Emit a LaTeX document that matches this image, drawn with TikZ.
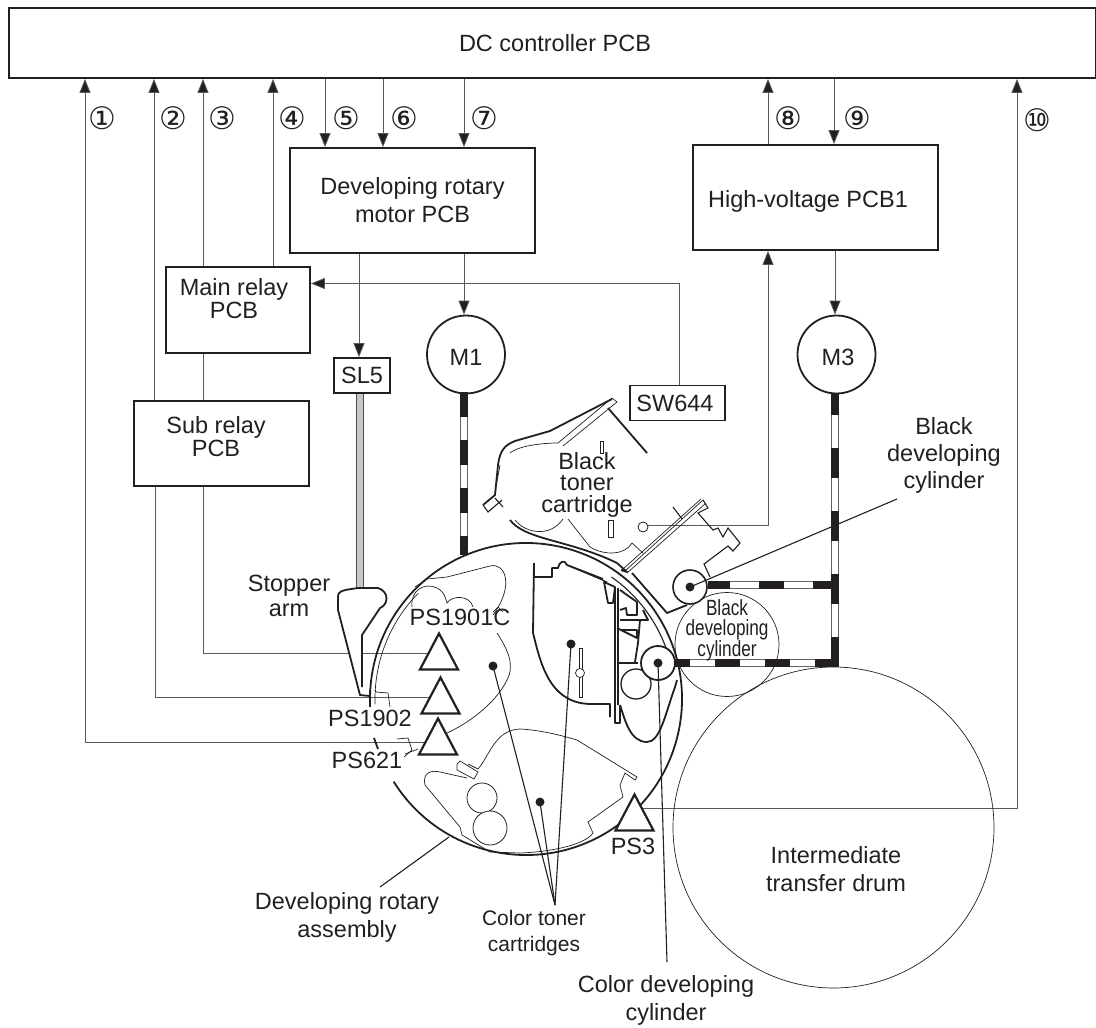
\documentclass[tikz,border=0pt]{standalone}
\usepackage{fontspec}
\setmainfont{Liberation Sans}
\newfontfamily\numfont{DejaVu Sans}
\usetikzlibrary{arrows.meta,shapes.geometric,calc}
\definecolor{ink}{HTML}{231F20}
\definecolor{rod}{HTML}{C8C8C8}
\tikzset{
 x=1pt,y=-1pt,
 every node/.style={font=\fontsize{23.5}{28}\selectfont,text=ink,align=center,inner sep=0pt},
 pcb/.style={draw=ink,line width=1.8pt,fill=white},
 conn/.style={draw=ink!75,line width=.8pt},
 arr/.style={conn,-{Triangle[length=14pt,width=11pt,fill=ink]}},
 thn/.style={draw=ink,line width=.7pt},
 med/.style={draw=ink,line width=1.1pt},
 thk/.style={draw=ink,line width=1.8pt,line join=round},
 num/.style={font=\numfont\fontsize{31}{31}\selectfont},
 tri/.style={draw=ink,line width=2.2pt,fill=white,isosceles triangle,isosceles triangle stretches,shape border rotate=90,minimum width=38pt,minimum height=36pt,inner sep=0pt},
 dot/.style={circle,fill=ink,minimum size=9pt},
 roller/.style={circle,draw=ink,line width=1.3pt,fill=white},
 thinc/.style={circle,draw=ink,line width=.7pt},
}
\newcommand{\myarc}[5]{\draw[#1] ([shift={(#4:#3pt)}]#2) arc[start angle=#4,end angle=#5,radius=#3pt];}
\newcommand{\belt}[2]{%
 \draw[ink!70,line width=7.5pt] #2;
 \draw[white,line width=6pt] #2;
 \draw[ink,line width=7.5pt,dash pattern=#1] #2;}
\begin{document}
\begin{tikzpicture}
\useasboundingbox (0,0) rectangle (1096,1028);
% boxes
\node[pcb,minimum width=1087pt,minimum height=70pt] (dc) at (552.5,43) {};
\node[pcb,minimum width=245pt,minimum height=105pt] (motor) at (412.5,200.5) {Developing rotary\\motor PCB};
\node[pcb,minimum width=144pt,minimum height=86pt] (main) at (238,310) {};
\node[pcb,minimum width=175pt,minimum height=85pt] (sub) at (221.5,443.5) {};
\node[pcb,minimum width=245pt,minimum height=105pt] (hv) at (815.5,197.5) {};
\node[pcb,circle,minimum size=78pt] (m1) at (466,354.5) {};
\node[pcb,circle,minimum size=78pt] (m3) at (836.5,354.5) {};
\node[pcb,minimum width=56pt,minimum height=35pt] (sl5) at (362,375.5) {SL5};
\node[pcb,minimum width=95pt,minimum height=35pt] (sw) at (677.5,403) {};
% free ends
\coordinate (a1) at (437,653);
\coordinate (a2) at (437,697);
\coordinate (a3) at (437,742);
\coordinate (a10) at (632,808);
\coordinate (sens) at (648,525);
% connectors
\draw[arr] (a3) -| (85,0 |- dc.south);
\draw[conn] (a2) -| (155,0 |- sub.south);
\draw[arr] (154,0 |- sub.north) -- (154,0 |- dc.south);
\draw[conn] (a1) -| (203,0 |- sub.south);
\draw[conn] (203,0 |- sub.north) -- (203,0 |- main.south);
\draw[arr] (203,0 |- main.north) -- (203,0 |- dc.south);
\draw[arr] (273,0 |- main.north) -- (273,0 |- dc.south);
\draw[arr] (325,0 |- dc.south) -- (325,0 |- motor.north);
\draw[arr] (383,0 |- dc.south) -- (383,0 |- motor.north);
\draw[arr] (464,0 |- dc.south) -- (464,0 |- motor.north);
\draw[arr] (768,0 |- hv.north) -- (768,0 |- dc.south);
\draw[arr] (sens) -| (768,0 |- hv.south);
\draw[arr] (834,0 |- dc.south) -- (834,0 |- hv.north);
\draw[arr] (a10) -| (1017,0 |- dc.south);
\draw[arr] (359,0 |- motor.south) -- (359,0 |- sl5.north);
\draw[arr] (464,0 |- motor.south) -- (464,0 |- m1.north);
\draw[arr] (835,0 |- hv.south) -- (835,0 |- m3.north);
\coordinate (swc) at (679,283.5);
\draw[arr] (679,0 |- sw.north) -- (swc) -- (main.east |- swc);
% rod and belts
\draw[ink!80,line width=7.5pt] (360,394) -- (360,590);
\draw[rod,line width=6pt] (360,394) -- (360,590);
\node[thinc,minimum size=104pt,fill=white] (bdc) at (727,644.5) {};
\node[thinc,minimum size=321pt] (drum) at (833.5,827.5) {};
\belt{on 25pt off 23pt}{(464,392) -- (464,555)}
\belt{on 30pt off 33pt}{(835,667) -- (835,393)}
\belt{on 22pt off 29pt on 25pt off 29pt}{(708,585) -- (832,585)}
\belt{on 25pt off 25pt}{(665,663) -- (839,663)}
% rotary
\coordinate (rc) at (526,699);
\myarc{thk}{rc}{156}{212}{542}
\myarc{thn}{rc}{151}{182}{135.5}
\myarc{med}{rc}{149}{55}{12}
% stopper arm
\draw[thk,fill=white] (362,687) -- (362,635) -- (380,608) .. controls (388,605) and (390,592) .. (378,588) -- (358,588) .. controls (345,590) and (338,590) .. (338,597) -- (338,610) -- (360,695) -- (370,696) ;
\draw[thk] (370,690) -- (370,707);
\draw[thn] (375,690) -- (376,692) -- (388,693) -- (390,707);
\draw[thk] (374,738) -- (378,749);
\draw[thn] (397,739) -- (408,738) -- (412,750) -- (404,757);
\draw[thn] (405,754) -- (418,749);
% rotary left cartridge
\draw[thn] (415,587) -- (427,579) -- (447,577) -- (490,566) .. controls (505,562) and (515,585) .. (493,615);
\draw[thn] (412,607) .. controls (410,590) and (425,582) .. (437,588) .. controls (445,592) and (446,600) .. (447,603) .. controls (452,595) and (470,595) .. (473,607);
\draw[thn] (497,633) .. controls (508,650) and (515,665) .. (507,680) .. controls (495,705) and (465,725) .. (447,733);
\draw[thn] (493,612) -- (498,607) -- (503,612);
% bottom cartridge
\draw[thn] (457,764) -- (460,761) -- (478,772) -- (474,779) -- (457,770) -- cycle;
\draw[thn] (468,764) -- (478,769) .. controls (490,755) and (495,730) .. (520,729) .. controls (540,730) and (560,735) .. (577,740) -- (637,777) -- (635,780) -- (625,773) -- (620,785) -- (623,797) -- (588,822) -- (593,833) .. controls (585,845) and (550,852) .. (520,853) -- (490,852) -- (462,835) -- (460,827) -- (425,785) .. controls (422,772) and (432,770) .. (440,772) -- (467,778);
\node[roller,line width=.8pt,minimum size=30pt] (r1) at (482,798) {};
\node[roller,line width=.8pt,minimum size=34pt] (r2) at (490,828) {};
% main colour cartridge
\draw[thk] (534,563) -- (534,577) -- (552,577) -- (552,568) -- (558,568) .. controls (560,560) and (565,560) .. (567,565) -- (603,579);
\draw[thk] (534,563) -- (533,633) .. controls (540,660) and (548,703) .. (590,704) -- (610,704) -- (610,717);
\draw[med] (567,565) -- (607,582);
\draw[thk] (615,588) -- (615,723) -- (620,723) -- (620,705);
\draw[med] (618,588) -- (618,705);
\draw[thk] (604,582) -- (615,587) -- (613,603) -- (608,603) -- cycle;
\draw[thk] (620,590) -- (637,602) -- (637,615) -- (627,615) -- (626,608) -- (620,610);
\draw[thk] (620,620) -- (648,620) -- (643,610);
\draw[thk] (617,628) -- (637,638) -- (637,630) -- (622,630);
\draw[thk] (640,620) -- (638,643) -- (635,662);
\draw[thk] (618,663) -- (638,663);
\draw[thk] (620,705) .. controls (625,720) and (630,742) .. (647,742) .. controls (660,742) and (665,715) .. (675,687) -- (677,680);
\node[roller,minimum size=30pt] (r3) at (636,684) {};
\node[roller,line width=1.8pt,minimum size=34pt] (cdc) at (658,663) {};
\draw[thn] (579,648) -- (579,697) -- (582,697) -- (582,648) -- cycle;
\node[circle,draw=ink,line width=.7pt,fill=white,minimum size=9pt] (cs) at (580,673) {};
% black cartridge
\draw[thk] (612,399) -- (550,431) -- (515,441) .. controls (505,445) and (500,450) .. (498,465) -- (495,495) -- (483,505);
\draw[med] (483,505) -- (488,512) -- (502,500) (495,498) -- (503,507);
\draw[thn] (612,398) -- (617,402) -- (563,446) (612,398) -- (558,443) .. controls (545,443) and (520,445) .. (510,453);
\draw[thk] (608,408) -- (647,453);
\draw[thn] (500,465) -- (495,492);
\draw[thn] (600,441) rectangle (603,453);
\draw[thn] (608,520) rectangle (613,537);
\draw[thk] (510,520) .. controls (525,540) and (570,540) .. (617,563) -- (627,572) -- (621,570);
\draw[thn] (515,520) .. controls (525,533) and (550,538) .. (563,519);
\draw[thn] (568,519) -- (590,547) .. controls (605,556) and (625,555) .. (632,543) -- (643,553);
\draw[thn] (623,569) -- (701,499);
\draw[thn] (625,571) -- (703,500);
\draw[thn] (627,573) -- (706,503);
\draw[med] (703,500) -- (708,508) -- (698,513) -- (713,530) -- (718,528) -- (723,537) -- (728,528) -- (740,543) -- (733,551) -- (728,546) -- (704,564) -- (710,577);
\draw[med] (673,507) -- (682,519);
\draw[thk] (632,573) -- (667,613) -- (687,605);
\node[circle,draw=ink,line width=.8pt,fill=white,minimum size=10pt] (cs2) at (643,527) {};
\node[roller,line width=1.6pt,minimum size=34pt] (bcyl) at (690,587) {};
% triangles
\node[tri] (t1) at (439,658) {};
\node[tri] (t2) at (440.5,702) {};
\node[tri] (t3) at (438,743) {};
\node[tri] (t4) at (634.5,819) {};
% dots, leaders
\node[dot] (d1) at (493,666) {};
\node[dot] (d2) at (571,644) {};
\node[dot] (d3) at (540,802) {};
\coordinate (cc) at (555,905);
\draw[med] (d1.center) -- (cc);
\draw[med] (d2.center) -- (cc);
\draw[med] (d3.center) -- (cc);
\node[dot] (d4) at (658,663) {};
\node[dot] (d5) at (690,587) {};
\coordinate (e4) at (667,962);
\coordinate (e5) at (897,499);
\coordinate (e6) at (380,887);
\coordinate (e7) at (449,837);
\draw[med] (d4.center) -- (e4);
\draw[med] (d5.center) -- (e5);
\draw[med] (e6) -- (e7);
% labels
\node (dct) at (555,43) {DC controller PCB};
\node (hvt) at (808,201) {High-voltage PCB1};
\node[font=\fontsize{23.5}{23}\selectfont] (mt) at (234,298.5) {Main relay\\PCB};
\node[font=\fontsize{23.5}{23}\selectfont] (st) at (216,436.5) {Sub relay\\PCB};
\node (m1t) at (466,357) {M1};
\node (m3t) at (838,357) {M3};
\node (swt) at (675,403) {SW644};
\node[font=\fontsize{23.5}{21.5}\selectfont] (l1) at (587,484.5) {Black\\toner\\cartridge};
\node[font=\fontsize{23.5}{27}\selectfont] (l2) at (944,455) {Black\\developing\\cylinder};
\node (l3) at (727,631) {\scalebox{.78}[1]{\fontsize{22}{20}\selectfont\begin{tabular}{@{}c@{}}Black\\[-1pt]developing\\[-1pt]cylinder\end{tabular}}};
\node[font=\fontsize{23.5}{25}\selectfont] (l4) at (289,595.5) {Stopper\\arm};
\node (l5) at (460,617) {PS1901C};
\node (l6) at (370,718) {PS1902};
\node (l7) at (367,760) {PS621};
\node (l8) at (633,846) {PS3};
\node (l9) at (347,917.5) {Developing rotary\\assembly};
\node[font=\fontsize{21}{26}\selectfont] (l10) at (534,933) {Color toner\\cartridges};
\node (l11) at (666,1000) {Color developing\\cylinder};
\node (l12) at (836,869) {Intermediate\\transfer drum};
% numbers
\node[num] (n1) at (102,118) {①};
\node[num] (n2) at (173,118) {②};
\node[num] (n3) at (222,118) {③};
\node[num] (n4) at (292,118) {④};
\node[num] (n5) at (346,118) {⑤};
\node[num] (n6) at (404,118) {⑥};
\node[num] (n7) at (484,118) {⑦};
\node[num] (n8) at (788,118) {⑧};
\node[num] (n9) at (857,118) {⑨};
\node[num] (n10) at (1037,120) {⑩};
\end{tikzpicture}
\end{document}
